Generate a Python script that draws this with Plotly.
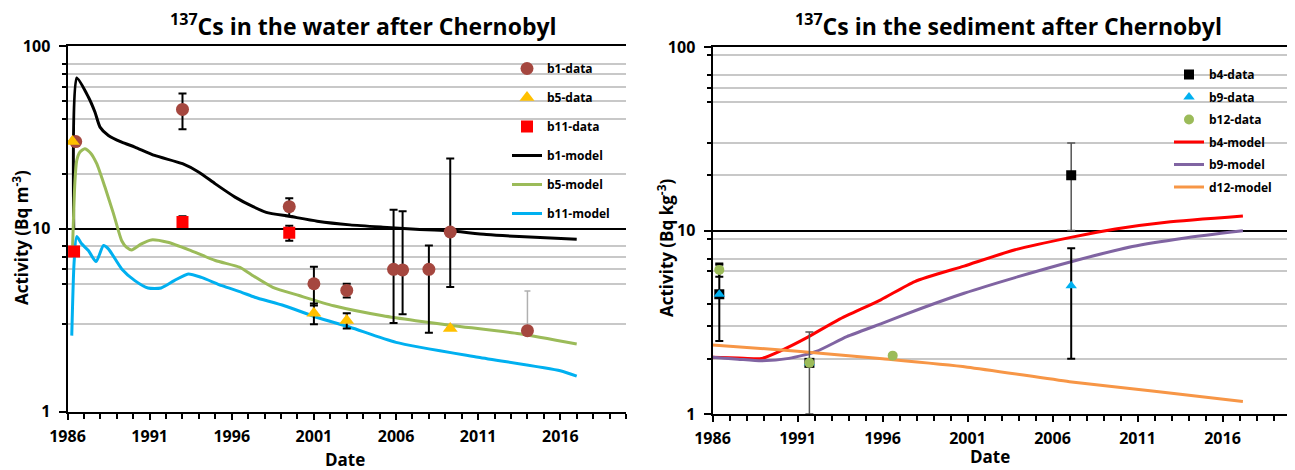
import plotly.graph_objects as go

W, H = 1295, 470
OFF = 8  # page body margin: the figure is drawn 8 px right/down in the window

# ---------------- Water chart (left) ----------------
b1_years = [1986.5, 1993.0, 1999.5, 2001.0, 2003.0, 2005.85, 2006.4, 2008.0, 2009.3, 2014.0]
b1_vals = [30, 45, 13.2, 5.0, 4.6, 6.0, 5.95, 6.0, 9.6, 2.77]
b1_err_plus = [0, 10, 1.5, 1.2, 0.4, 6.7, 6.5, 2.1, 14.6, 0]
b1_err_minus = [0, 10, 1.5, 1.2, 0.4, 2.95, 2.55, 3.3, 4.8, 0]
b1_faint_plus = [0, 0, 0, 0, 0, 0, 0, 0, 0, 1.8]

b5_years = [1986.3, 2001.0, 2003.0, 2009.3]
b5_vals = [30, 3.45, 3.15, 2.85]
b5_err = [0, 0.45, 0.3, 0]

b11_years = [1986.4, 1993.0, 1999.5]
b11_vals = [7.5, 10.9, 9.5]
b11_err = [0, 0.8, 0.9]

b1_model_years = [1986.38, 1986.56, 1987.27, 1987.67, 1987.98, 1988.49, 1989.3, 1990.1, 1991.3,
                  1993.0, 1994.0, 1995.0, 1996.2, 1997.3, 1998.1, 1999.5, 2001.2, 2003.2, 2005.2,
                  2007.2, 2009.1, 2011.5, 2013.5, 2017.0]
b1_model_vals = [10, 66.8, 52.6, 43.5, 36, 32.4, 29.8, 28, 25.2, 22.7, 20.4, 17.6, 14.9, 13.2, 12.3,
                 11.7, 11.0, 10.5, 10.2, 9.95, 9.77, 9.3, 9.06, 8.76]

b5_model_years = [1986.3, 1986.45, 1986.56, 1986.76, 1987.05, 1987.4, 1987.78, 1988.28, 1988.8, 1989.3,
                  1989.6, 1989.9, 1990.5, 1991.1, 1992.1, 1993.4, 1995.0, 1996.5, 1997.2, 1998.5,
                  2000.1, 2002.2, 2005.2, 2007.2, 2009.5, 2013.5, 2017.0]
b5_model_vals = [7.5, 18, 23.6, 26.3, 27.4, 26.0, 22.7, 16.9, 12.1, 8.6, 7.9, 7.66, 8.27, 8.69, 8.43,
                 7.66, 6.7, 6.15, 5.6, 4.78, 4.31, 3.79, 3.34, 3.14, 2.95, 2.66, 2.34]

b11_model_years = [1986.26, 1986.4, 1986.56, 1986.86, 1987.27, 1987.74, 1988.19, 1988.49, 1989.3, 1990.1,
                   1990.9, 1991.7, 1992.5, 1993.35, 1994.15, 1995.4, 1996.6, 1997.4, 1999.2, 2001.2,
                   2003.2, 2006.0, 2011.0, 2016.0, 2017.0]
b11_model_vals = [2.6, 6.5, 9.06, 8.27, 7.6, 6.61, 8.09, 7.76, 6.03, 5.2, 4.74, 4.74, 5.2, 5.66, 5.42,
                  4.88, 4.49, 4.22, 3.79, 3.27, 2.89, 2.39, 1.98, 1.67, 1.56]

# ---------------- Sediment chart (right) ----------------
b4_years = [1986.4, 1991.7, 2007.1]
b4_vals = [4.5, 1.9, 20]
b4_err = [0, 0.9, 10]

b9_years = [1986.4, 1991.7, 2007.1]
b9_vals = [4.5, 1.9, 5.0]
b9_err = [2.0, 0, 3.0]

b12_years = [1986.4, 1991.7, 1996.6]
b12_vals = [6.1, 1.9, 2.08]
b12_err = [0.5, 0, 0]

b4_model_years = [1986.0, 1987.5, 1988.9, 1990.1, 1991.5, 1993.4, 1995.9, 1997.9, 2000.8, 2003.8,
                  2007.15, 2009.7, 2012.7, 2017.2]
b4_model_vals = [2.04, 2.02, 2.01, 2.23, 2.59, 3.26, 4.19, 5.27, 6.4, 7.85, 9.2, 10.2, 11.1, 12.0]

b9_model_years = [1986.0, 1987.5, 1988.9, 1990.5, 1992.1, 1993.9, 1995.9, 1998.3, 2000.8, 2003.8,
                  2007.15, 2010.7, 2013.7, 2017.2]
b9_model_vals = [2.04, 1.99, 1.95, 2.01, 2.19, 2.64, 3.1, 3.77, 4.55, 5.54, 6.78, 8.18, 9.08, 9.96]

d12_model_years = [1986.0, 1991.0, 1996.0, 2001.0, 2007.0, 2012.0, 2017.2]
d12_model_vals = [2.38, 2.2, 2.0, 1.8, 1.5, 1.33, 1.17]

year_ticks = [1986, 1991, 1996, 2001, 2006, 2011, 2016]
y_ticks = [1, 10, 100]
y_tick_text = ["1", "10", "100"]
left_minor_grid = [3, 5, 6, 7, 8, 20, 40, 50, 60, 70, 80]
right_minor_grid = [2, 3, 4, 6, 7, 9, 20, 30, 50, 60, 70, 90]

FONT = "Open Sans"


def px(x):
    return (x - OFF) / W


def py(y):
    return 1 - (y - OFF) / H


fig = go.Figure()


def line(x, y, name, color, xa, ya, leg, rank):
    fig.add_trace(go.Scatter(x=x, y=y, mode="lines", name=name,
                             line=dict(color=color, width=3, shape="spline", smoothing=0.6),
                             xaxis=xa, yaxis=ya, legend=leg, legendgroup=name, legendrank=rank))


def pts(x, y, name, color, symbol, size, err_p, err_m, xa, ya, leg, rank, ecolor="black", ethick=2):
    fig.add_trace(go.Scatter(x=x, y=y, mode="markers", name=name,
                             marker=dict(color=color, symbol=symbol, size=size),
                             error_y=dict(type="data", symmetric=False, array=err_p, arrayminus=err_m,
                                          color=ecolor, thickness=ethick, width=4),
                             xaxis=xa, yaxis=ya, legend=leg, legendgroup=name, legendrank=rank))


# left
line(b1_model_years, b1_model_vals, "b1-model", "#000000", "x", "y", "legend", 4)
line(b5_model_years, b5_model_vals, "b5-model", "#9BBB59", "x", "y", "legend", 5)
line(b11_model_years, b11_model_vals, "b11-model", "#00B0F0", "x", "y", "legend", 6)
fig.add_trace(go.Scatter(x=b1_years, y=b1_vals, mode="markers", showlegend=False,
                         marker=dict(size=1, color="rgba(0,0,0,0)"),
                         error_y=dict(type="data", symmetric=False, array=b1_faint_plus,
                                      arrayminus=[0] * len(b1_years), color="#b0b0b0",
                                      thickness=1.5, width=3),
                         xaxis="x", yaxis="y"))
pts(b1_years, b1_vals, "b1-data", "#A5473F", "circle", 13, b1_err_plus, b1_err_minus, "x", "y", "legend", 1)
pts(b5_years, b5_vals, "b5-data", "#FFC000", "triangle-up", 13, b5_err, b5_err, "x", "y", "legend", 2)
pts(b11_years, b11_vals, "b11-data", "#FF0000", "square", 12, b11_err, b11_err, "x", "y", "legend", 3)

# right
line(b4_model_years, b4_model_vals, "b4-model", "#FF0000", "x2", "y2", "legend2", 4)
line(b9_model_years, b9_model_vals, "b9-model", "#8064A2", "x2", "y2", "legend2", 5)
line(d12_model_years, d12_model_vals, "d12-model", "#F79646", "x2", "y2", "legend2", 6)
pts(b4_years, b4_vals, "b4-data", "#000000", "square", 10, b4_err, b4_err, "x2", "y2", "legend2", 1,
    ecolor="#555555", ethick=1.5)
pts(b9_years, b9_vals, "b9-data", "#00B0F0", "triangle-up", 10, b9_err, b9_err, "x2", "y2", "legend2", 2)
pts(b12_years, b12_vals, "b12-data", "#9BBB59", "circle", 10, b12_err, b12_err, "x2", "y2", "legend2", 3)

tickfont = dict(family=FONT, size=16, color="black", weight="bold")


def xaxis_cfg(domain, anchor):
    return dict(domain=domain, anchor=anchor, range=[1986, 2020], tickmode="array", tickvals=year_ticks,
                ticks="outside", ticklen=6, tickwidth=2, tickcolor="black", showgrid=False,
                showline=True, linecolor="black", linewidth=2, mirror=True, zeroline=False,
                tickfont=tickfont, ticklabelstandoff=3, automargin=False,
                minor=dict(tick0=1986, dtick=1, ticks="outside", ticklen=5, tickwidth=2,
                           tickcolor="black", showgrid=False))


def yaxis_cfg(domain, anchor, minor_vals):
    return dict(domain=domain, anchor=anchor, type="log", range=[0, 2], tickmode="array",
                tickvals=y_ticks, ticktext=y_tick_text, ticks="outside", ticklen=7, tickwidth=2,
                tickcolor="black", showgrid=True, gridcolor="black", gridwidth=2,
                showline=True, linecolor="black", linewidth=2, zeroline=False,
                tickfont=tickfont, ticklabelstandoff=5, automargin=False,
                minor=dict(tickmode="array", tickvals=minor_vals, ticks="outside", ticklen=4,
                           tickwidth=2, tickcolor="black", showgrid=True, gridcolor="#c8c8c8",
                           gridwidth=2))


fig.update_layout(
    width=W, height=H, margin=dict(l=0, r=0, t=0, b=0, autoexpand=False),
    paper_bgcolor="white", plot_bgcolor="white",
    font=dict(family=FONT, color="black"),
    xaxis=xaxis_cfg([px(67.5), px(626)], "y"),
    yaxis=yaxis_cfg([py(411.5), py(46)], "x", left_minor_grid),
    xaxis2=xaxis_cfg([px(712.5), px(1290.5)], "y2"),
    yaxis2=yaxis_cfg([py(414), py(47)], "x2", right_minor_grid),
    legend=dict(x=px(507), y=py(54), xanchor="left", yanchor="top", bgcolor="rgba(0,0,0,0)",
                font=dict(family=FONT, size=12, color="black", weight="bold"),
                tracegroupgap=10, itemwidth=30, traceorder="grouped"),
    legend2=dict(x=px(1169), y=py(60), xanchor="left", yanchor="top", bgcolor="rgba(0,0,0,0)",
                 font=dict(family=FONT, size=12, color="black", weight="bold"),
                 tracegroupgap=3.5, itemwidth=30, traceorder="grouped"),
    showlegend=True,
)

annos = [
    dict(text="<b><sup>137</sup>Cs in the water after Chernobyl</b>", x=363, y=25, size=23, angle=0),
    dict(text="<b><sup>137</sup>Cs in the sediment after Chernobyl</b>", x=1008, y=25, size=23, angle=0),
    dict(text="<b>Activity (Bq m<sup>-3</sup>)</b>", x=21, y=238, size=17, angle=-90),
    dict(text="<b>Activity (Bq kg<sup>-3</sup>)</b>", x=666, y=248, size=17, angle=-90),
    dict(text="<b>Date</b>", x=345, y=459, size=17, angle=0),
    dict(text="<b>Date</b>", x=990, y=456, size=17, angle=0),
]
for a in annos:
    fig.add_annotation(text=a["text"], x=px(a["x"]), y=py(a["y"]), xref="paper", yref="paper",
                       xanchor="center", yanchor="middle", showarrow=False, textangle=a["angle"],
                       font=dict(family=FONT, size=a["size"], color="black"))

fig.write_html("out.html")
